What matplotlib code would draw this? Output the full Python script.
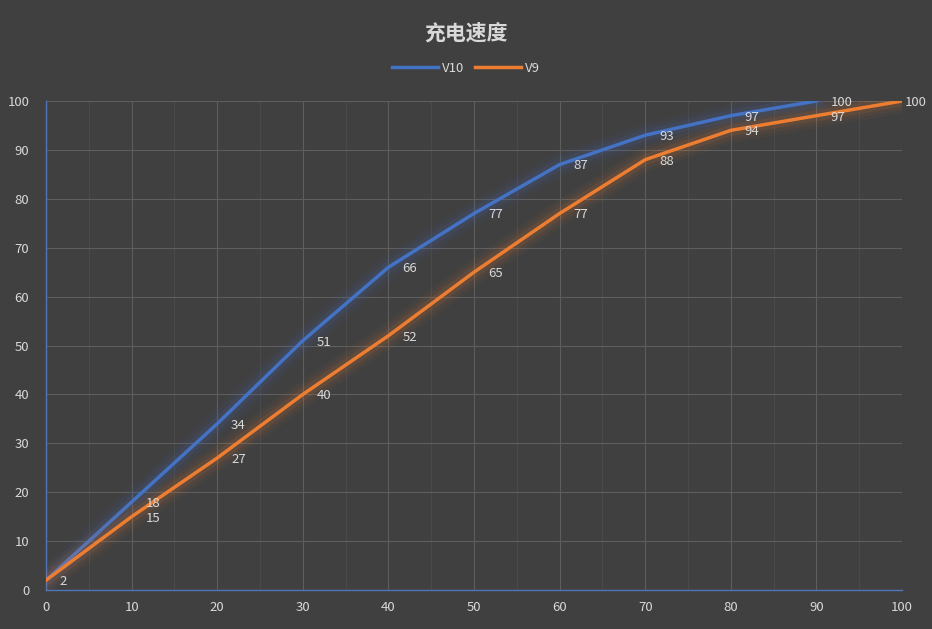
import matplotlib.pyplot as plt
import matplotlib.patheffects as pe

plt.rcParams['font.family'] = ['Noto Sans CJK SC', 'DejaVu Sans']

# data
x_v10 = [0, 10, 20, 30, 40, 50, 60, 70, 80, 90]
v10 = [2, 18, 34, 51, 66, 77, 87, 93, 97, 100]
x_v9 = [0, 10, 20, 30, 40, 50, 60, 70, 80, 90, 100]
v9 = [2, 15, 27, 40, 52, 65, 77, 88, 94, 97, 100]

bg = '#404040'
txt = '#d9d9d9'
blue = '#4472C4'
orange = '#ED7D31'

fig = plt.figure(figsize=(9.32, 6.29), dpi=100, facecolor=bg)
ax = fig.add_axes([0.0494, 0.062, 0.9184, 0.7774], facecolor=bg)

def glow(c):
    return [pe.Stroke(linewidth=18, foreground=c, alpha=0.04),
            pe.Stroke(linewidth=13, foreground=c, alpha=0.06),
            pe.Stroke(linewidth=8, foreground=c, alpha=0.10),
            pe.Normal()]

ax.plot(x_v10, v10, color=blue, lw=2.5, label='V10', path_effects=glow(blue), zorder=3)
ax.plot(x_v9, v9, color=orange, lw=2.5, label='V9', path_effects=glow(orange), zorder=3)

# data labels (right of point)
for x, y in zip(x_v10, v10):
    if x == 0:
        continue
    ax.annotate(str(y), (x, y), xytext=(10, -1), textcoords='offset points',
                color=txt, fontsize=9.5, va='center', ha='left', zorder=4)
for x, y in zip(x_v9, v9):
    dx = 2 if x == 100 else 10
    ax.annotate(str(y), (x, y), xytext=(dx, -1), textcoords='offset points',
                color=txt, fontsize=9.5, va='center', ha='left', zorder=4)

ax.set_xlim(0, 100)
ax.set_ylim(0, 100)
ax.set_xticks(range(0, 101, 10))
ax.set_yticks(range(0, 101, 10))
ax.set_xticks(range(5, 100, 10), minor=True)
ax.grid(True, which='major', color='#5e5e5e', lw=0.8)
ax.grid(True, which='minor', axis='x', color='#4a4a4a', lw=0.8)
ax.tick_params(which='both', length=0, colors=txt, labelsize=9.5)
ax.tick_params(axis='y', pad=12)
ax.tick_params(axis='x', pad=8)
for s in ['top', 'right']:
    ax.spines[s].set_visible(False)
for s in ['left', 'bottom']:
    ax.spines[s].set_color('#4f74b8')
    ax.spines[s].set_linewidth(1)

fig.text(0.5, 0.947, '充电速度', ha='center', va='center', color=txt,
         fontsize=15, fontweight='bold')
leg = fig.legend(loc='center', bbox_to_anchor=(0.5, 0.891), ncol=2, frameon=False,
                 fontsize=9.5, labelcolor=txt, handlelength=3.5, columnspacing=0.8,
                 handletextpad=0.3)
for line in leg.get_lines():
    line.set_path_effects([])

fig.savefig('out.png', dpi=100, facecolor=bg)
